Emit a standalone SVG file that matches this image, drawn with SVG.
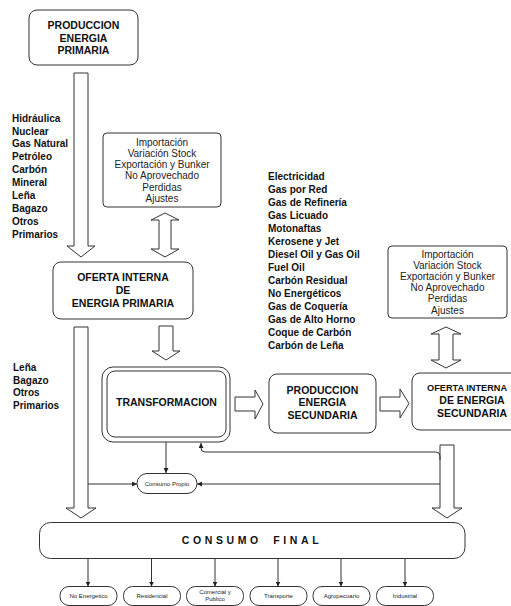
<svg xmlns="http://www.w3.org/2000/svg" width="511" height="606" viewBox="0 0 511 606">
<style>
.box{fill:#fff;stroke:#333;stroke-width:1}
.blk{fill:#fff;stroke:#333;stroke-width:1;stroke-linejoin:miter}
.ln{fill:none;stroke:#333;stroke-width:1}
.b{font-family:"Liberation Sans",Arial,sans-serif;font-weight:bold;font-size:10.5px;fill:#111;text-anchor:middle}
.l{font-family:"Liberation Sans",Arial,sans-serif;font-weight:bold;font-size:10px;fill:#111}
.r{font-family:"Liberation Sans",Arial,sans-serif;font-size:10px;fill:#222;text-anchor:middle}
.s{font-family:"Liberation Sans",Arial,sans-serif;font-size:6px;fill:#222;text-anchor:middle}
</style>
<defs>
<marker id="ah" viewBox="0 0 6 6" refX="6" refY="3" markerWidth="5" markerHeight="5" orient="auto" markerUnits="userSpaceOnUse">
<path d="M0,0 L6,3 L0,6 Z" fill="#222"/>
</marker>
</defs>
<rect width="511" height="606" fill="#fff"/>

<g id="connectors">
<path class="blk" d="M74,73 L88,73 L88,246 L95,246 L81,257 L67,246 L74,246 Z"/>
<path class="blk" d="M74,327 L88,327 L88,508 L96,508 L81,518 L66,508 L74,508 Z"/>
<path class="blk" d="M159,326 L173,326 L173,351 L180,351 L166,360 L152,351 L159,351 Z"/>
<path class="blk" d="M440,445 L454,445 L454,508 L462,508 L447,518 L432,508 L440,508 Z"/>
<path class="blk" d="M235,397 L255,397 L255,390 L263,404 L255,419 L255,411 L235,411 Z"/>
<path class="blk" d="M380,397 L400,397 L400,389 L409,403.5 L400,418 L400,411 L380,411 Z"/>
<path class="blk" d="M159,220 L151,220 L165,213 L179,220 L171,220 L171,249 L179,249 L165,257 L151,249 L159,249 Z"/>
<path class="blk" d="M439,334 L431,334 L446,327 L461,334 L453,334 L453,360 L461,360 L446,368 L431,360 L439,360 Z"/>
<path class="ln" d="M440,460 L440,456 Q440,452 436,452 L205,452 Q201,452 201,448 L201,443" marker-end="url(#ah)"/>
<path class="ln" d="M166,442 L166,473" marker-end="url(#ah)"/>
<path class="ln" d="M88,484 L137,484" marker-end="url(#ah)"/>
<path class="ln" d="M440,484 L197,484" marker-end="url(#ah)"/>
<path class="ln" d="M88,558 L88,586.5" marker-end="url(#ah)"/>
<path class="ln" d="M151.5,558 L151.5,586.5" marker-end="url(#ah)"/>
<path class="ln" d="M215,558 L215,586.5" marker-end="url(#ah)"/>
<path class="ln" d="M278,558 L278,586.5" marker-end="url(#ah)"/>
<path class="ln" d="M341,558 L341,586.5" marker-end="url(#ah)"/>
<path class="ln" d="M405,558 L405,586.5" marker-end="url(#ah)"/>
</g>

<g id="prod-primaria">
<rect class="box" x="29" y="10" width="109" height="55" rx="8"/>
<text class="b" x="83.5" y="29">PRODUCCION</text>
<text class="b" x="83.5" y="41.5">ENERGIA</text>
<text class="b" x="83.5" y="54">PRIMARIA</text>
</g>

<g id="lista-primarios">
<text class="l" x="12" y="121.5">Hidráulica</text>
<text class="l" x="12" y="134.5">Nuclear</text>
<text class="l" x="12" y="147.4">Gas Natural</text>
<text class="l" x="12" y="160.4">Petróleo</text>
<text class="l" x="12" y="173.3">Carbón</text>
<text class="l" x="12" y="186.3">Mineral</text>
<text class="l" x="12" y="199.2">Leña</text>
<text class="l" x="12" y="212.2">Bagazo</text>
<text class="l" x="12" y="225.1">Otros</text>
<text class="l" x="12" y="238">Primarios</text>
</g>

<g id="ajustes-primaria">
<rect class="box" x="103" y="133" width="118" height="74" rx="4"/>
<text class="r" x="162" y="145.5">Importación</text>
<text class="r" x="162" y="156.8">Variación Stock</text>
<text class="r" x="162" y="168.1">Exportación y Bunker</text>
<text class="r" x="162" y="179.4">No Aprovechado</text>
<text class="r" x="162" y="190.7">Perdidas</text>
<text class="r" x="162" y="202">Ajustes</text>
</g>

<g id="lista-secundarios">
<text class="l" x="268" y="180.2">Electricidad</text>
<text class="l" x="268" y="193.1">Gas por Red</text>
<text class="l" x="268" y="206.1">Gas de Refinería</text>
<text class="l" x="268" y="219">Gas Licuado</text>
<text class="l" x="268" y="232">Motonaftas</text>
<text class="l" x="268" y="245">Kerosene y Jet</text>
<text class="l" x="268" y="257.9">Diesel Oil y Gas Oil</text>
<text class="l" x="268" y="270.9">Fuel Oil</text>
<text class="l" x="268" y="283.8">Carbón Residual</text>
<text class="l" x="268" y="296.8">No Energéticos</text>
<text class="l" x="268" y="309.7">Gas de Coquería</text>
<text class="l" x="268" y="322.7">Gas de Alto Horno</text>
<text class="l" x="268" y="335.6">Coque de Carbón</text>
<text class="l" x="268" y="348.6">Carbón de Leña</text>
</g>

<g id="ajustes-secundaria">
<rect class="box" x="388" y="246" width="119" height="72" rx="4"/>
<text class="r" x="447.5" y="257.5">Importación</text>
<text class="r" x="447.5" y="268.7">Variación Stock</text>
<text class="r" x="447.5" y="279.9">Exportación y Bunker</text>
<text class="r" x="447.5" y="291.1">No Aprovechado</text>
<text class="r" x="447.5" y="302.3">Perdidas</text>
<text class="r" x="447.5" y="313.5">Ajustes</text>
</g>

<g id="oferta-primaria">
<rect class="box" x="53" y="262" width="140" height="57" rx="8"/>
<text class="b" x="123" y="280.5">OFERTA INTERNA</text>
<text class="b" x="123" y="293.8">DE</text>
<text class="b" x="123" y="306.8">ENERGIA PRIMARIA</text>
</g>

<g id="lista-directos">
<text class="l" x="13" y="370.8">Leña</text>
<text class="l" x="13" y="383.5">Bagazo</text>
<text class="l" x="13" y="396.2">Otros</text>
<text class="l" x="13" y="408.9">Primarios</text>
</g>

<g id="transformacion">
<rect class="box" x="102" y="367" width="128" height="75" rx="11"/>
<rect class="box" x="107" y="371" width="119" height="66" rx="8"/>
<text class="b" x="166.5" y="405.5">TRANSFORMACION</text>
</g>

<g id="prod-secundaria">
<rect class="box" x="269" y="374" width="107" height="59" rx="8"/>
<text class="b" x="322.5" y="393.8">PRODUCCION</text>
<text class="b" x="322.5" y="406">ENERGIA</text>
<text class="b" x="322.5" y="418.8">SECUNDARIA</text>
</g>

<g id="oferta-secundaria">
<rect class="box" x="412" y="373" width="130" height="57" rx="8"/>
<text class="b" x="427" y="390.5" style="text-anchor:start;font-size:9.2px">OFERTA INTERNA</text>
<text class="b" x="472" y="403.8">DE ENERGIA</text>
<text class="b" x="472" y="416.8">SECUNDARIA</text>
</g>

<g id="consumo-propio">
<rect class="box" x="137" y="473.5" width="60" height="20" rx="10"/>
<text class="s" x="167" y="485.5">Consumo Propio</text>
</g>

<g id="consumo-final">
<rect class="box" x="39.5" y="522.5" width="425.5" height="36" rx="11"/>
<text class="b" x="252" y="543.6" font-size="10" letter-spacing="3.6" word-spacing="5">CONSUMO FINAL</text>
</g>

<g id="no-energetico">
<rect class="box" x="60" y="586.5" width="57" height="19" rx="9"/>
<text class="s" x="88.5" y="597.7">No Energetico</text>
</g>
<g id="residencial">
<rect class="box" x="123.5" y="586.5" width="57" height="19" rx="9"/>
<text class="s" x="152" y="597.7">Residencial</text>
</g>
<g id="comercial">
<rect class="box" x="186.5" y="586.5" width="57" height="19" rx="9"/>
<text class="s" x="215" y="593.7">Comercial y</text>
<text class="s" x="215" y="600.8">Publico</text>
</g>
<g id="transporte">
<rect class="box" x="250" y="586.5" width="57" height="19" rx="9"/>
<text class="s" x="278.5" y="597.7">Transporte</text>
</g>
<g id="agropecuario">
<rect class="box" x="313" y="586.5" width="57" height="19" rx="9"/>
<text class="s" x="341.5" y="597.7">Agropecuario</text>
</g>
<g id="industrial">
<rect class="box" x="376.5" y="586.5" width="57" height="19" rx="9"/>
<text class="s" x="405" y="597.7">Industrial</text>
</g>
</svg>
